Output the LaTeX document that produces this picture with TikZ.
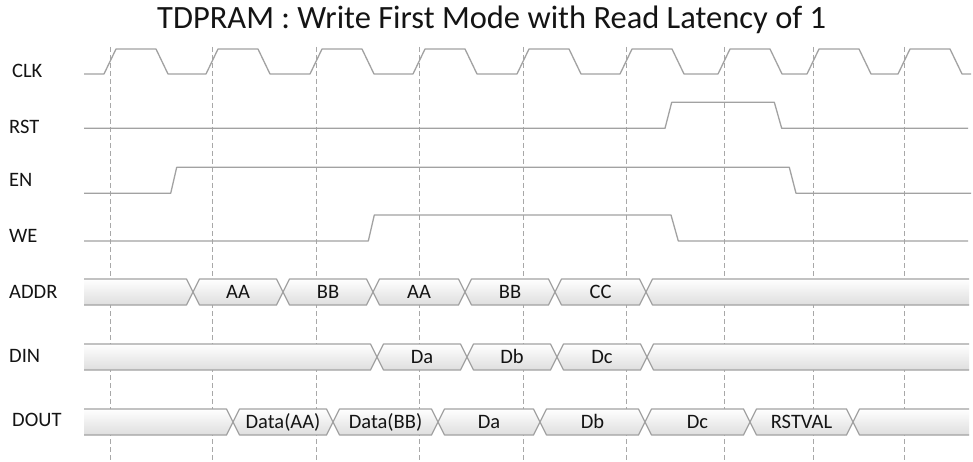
\documentclass[tikz,border=0pt]{standalone}
\usepackage{fontspec}
\setmainfont{Carlito}
\definecolor{wire}{HTML}{A2A2A2}
\definecolor{guide}{HTML}{A8A8A8}
\definecolor{ink}{HTML}{141414}
\tikzset{
  sig/.style={draw=wire, line width=1.3pt, line join=round},
  guideline/.style={draw=guide, line width=0.9pt, dash pattern=on 5pt off 3pt},
  siglabel/.style={anchor=base west, inner sep=0pt, text=ink, font=\fontsize{20.5}{24}\selectfont},
  buslabel/.style={anchor=base, inner sep=0pt, text=ink, font=\fontsize{20.5}{24}\selectfont},
  busfill/.style={top color=white, bottom color=black!13, draw=none},
}
% full segment between crossings #1 and #2 at centre y #3, label #4, node name #5
\newcommand{\bseg}[5]{%
  \shade[busfill] (#1,#3) -- (#1+6.5,#3-13) -- (#2-6.5,#3-13) -- (#2,#3) -- (#2-6.5,#3+13) -- (#1+6.5,#3+13) -- cycle;
  \draw[sig] (#1,#3) -- (#1+6.5,#3-13) -- (#2-6.5,#3-13) -- (#2,#3) -- (#2-6.5,#3+13) -- (#1+6.5,#3+13) -- cycle;
  \node[buslabel] (#5) at ({(#1+#2)/2},#3+6.6) {#4};}
% open start segment ending at crossing #1
\newcommand{\bstart}[2]{%
  \shade[busfill] (84,#2-13) -- (#1-6.5,#2-13) -- (#1,#2) -- (#1-6.5,#2+13) -- (84,#2+13) -- cycle;
  \draw[sig] (84,#2-13) -- (#1-6.5,#2-13) -- (#1,#2) -- (#1-6.5,#2+13) -- (84,#2+13);}
% open end segment from crossing #1
\newcommand{\bend}[2]{%
  \shade[busfill] (969,#2-13) -- (#1+6.5,#2-13) -- (#1,#2) -- (#1+6.5,#2+13) -- (969,#2+13) -- cycle;
  \draw[sig] (969,#2-13) -- (#1+6.5,#2-13) -- (#1,#2) -- (#1+6.5,#2+13) -- (969,#2+13);}
\begin{document}
\begin{tikzpicture}[x=1pt,y=-1pt]
\useasboundingbox[fill=white] (0,0) rectangle (973,462);

% title
\node[anchor=base west, inner sep=0pt, text=ink, font=\fontsize{32.5}{38}\selectfont] (title) at (157,28.5)
  {TDPRAM : Write First Mode with Read Latency of 1};

% guide lines
\foreach \d in {110,212,316,419,523,626,724,813,904}
  \draw[guideline] (\d,47) -- (\d,462);

% signal names
\node[siglabel] (lclk)  at (12,77.3)  {CLK};
\node[siglabel] (lrst)  at (9,134)    {RST};
\node[siglabel] (len)   at (9,186.7)  {EN};
\node[siglabel] (lwe)   at (9,242)    {WE};
\node[siglabel] (laddr) at (9,298)    {ADDR};
\node[siglabel] (ldin)  at (9,362.7)  {DIN};
\node[siglabel] (ldout) at (12,426.7) {DOUT};

% CLK
\draw[sig] (84,74)
  \foreach \d in {110,212,316,419,523,626,724,813,904} {
    -- (\d-6,74) -- (\d+6,49) -- (\d+46,49) -- (\d+58,74)
  } -- (971,74);

% RST
\draw[sig] (84,128.3) -- (665,128.3) -- (671.7,102.3) -- (774.3,102.3) -- (781.7,128.3) -- (968,128.3);
% EN
\draw[sig] (84,193.3) -- (170.7,193.3) -- (176.7,167.3) -- (789.3,167.3) -- (796,193.3) -- (971,193.3);
% WE
\draw[sig] (84,241) -- (368.3,241) -- (374.3,215) -- (671,215) -- (678.3,241) -- (968,241);

% ADDR
\bstart{193}{292}
\bseg{193}{283}{292}{AA}{a1}
\bseg{283}{373}{292}{BB}{a2}
\bseg{373}{465}{292}{AA}{a3}
\bseg{465}{555}{292}{BB}{a4}
\bseg{555}{646}{292}{CC}{a5}
\bend{646}{292}

% DIN
\bstart{377}{357}
\bseg{377}{467}{357}{Da}{d1}
\bseg{467}{557}{357}{Db}{d2}
\bseg{557}{647}{357}{Dc}{d3}
\bend{647}{357}

% DOUT
\bstart{233}{422}
\bseg{233}{333}{422}{Data(AA)}{o1}
\bseg{333}{438}{422}{Data(BB)}{o2}
\bseg{438}{540}{422}{Da}{o3}
\bseg{540}{645}{422}{Db}{o4}
\bseg{645}{750}{422}{Dc}{o5}
\bseg{750}{853}{422}{RSTVAL}{o6}
\bend{853}{422}
\end{tikzpicture}
\end{document}
